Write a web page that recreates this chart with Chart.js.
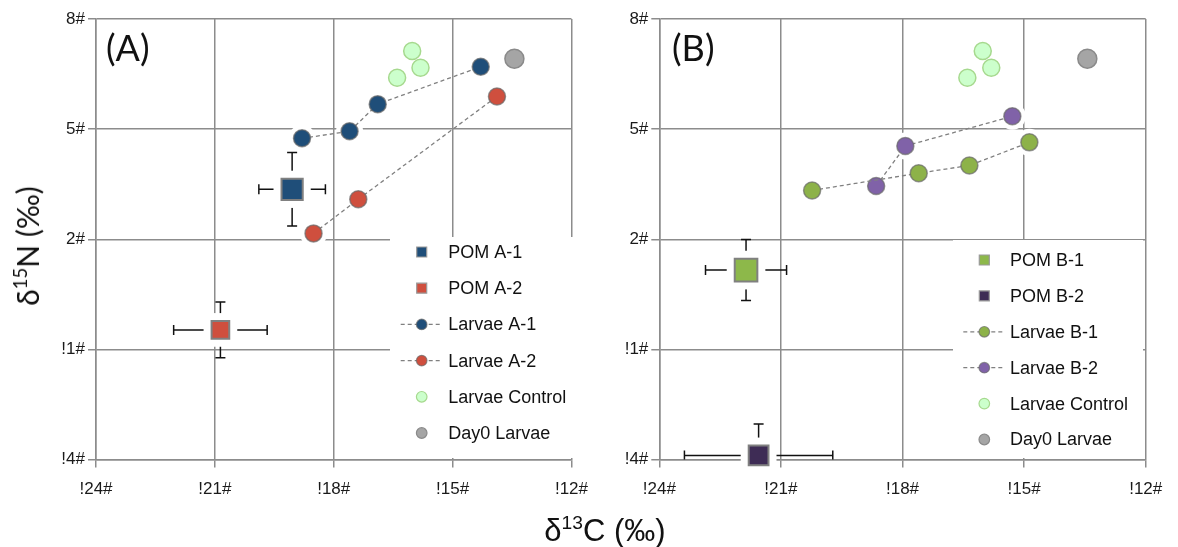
<!DOCTYPE html>
<html lang="en">
<head>
<meta charset="UTF-8">
<title>Isotope biplot</title>
<script src="https://cdn.jsdelivr.net/npm/chart.js"></script>
<style>
  body { margin: 0; background: #fff; }
  #wrap { position: relative; width: 1178px; height: 547px; overflow: hidden; }
  canvas { position: absolute; top: 0; }
  #chartA { left: 0; }
  #chartB { left: 600px; }
  .tag { position: absolute; top: 29px; font-family: Lato, 'Open Sans', sans-serif; font-size: 36px; line-height: 1; color: #111; }
  .ytitle { position: absolute; left: 27px; top: 246px; transform: translate(-50%, -50%) rotate(-90deg);
            font-family: Lato, 'Open Sans', sans-serif; font-size: 30px; white-space: nowrap; color: #111; }
  .xtitle { position: absolute; left: 605px; top: 531px; transform: translate(-50%, -50%);
            font-family: 'Liberation Sans', Arial, sans-serif; font-size: 31px; white-space: nowrap; color: #111; }
  sup { font-size: 0.62em; vertical-align: 0.62em; line-height: 0; }
</style>
</head>
<body>
<div id="wrap">
  <canvas id="chartA" width="600" height="547"></canvas>
  <canvas id="chartB" width="578" height="547"></canvas>
  <div class="tag" style="left:106px">(A)</div>
  <div class="tag" style="left:672px">(B)</div>
  <div class="ytitle">δ<sup>15</sup>N (‰)</div>
  <div class="xtitle">δ<sup>13</sup>C (‰)</div>
</div>
<script>
// axis ticks (labels kept exactly as printed in the figure)
const xTicks = [-24, -21, -18, -15, -12];
const xTickLabels = ['!24#', '!21#', '!18#', '!15#', '!12#'];
const yTicks = [-4, -1, 2, 5, 8];
const yTickLabels = ['!4#', '!1#', '2#', '5#', '8#'];

// panel A
const pomA1 = { x: -19.05, y: 3.36, xErr: 0.84, yErr: 1.0 };
const pomA2 = { x: -20.86, y: -0.47, xErr: 1.18, yErr: 0.76 };
const larvaeA1X = [-18.80, -17.60, -16.89, -14.29];
const larvaeA1Y = [4.75, 4.94, 5.68, 6.70];
const larvaeA2X = [-18.51, -17.38, -13.88];
const larvaeA2Y = [2.16, 3.09, 5.89];

// panel B
const pomB1 = { x: -21.86, y: 1.16, xErr: 1.0, yErr: 0.83 };
const pomB2 = { x: -21.55, y: -3.89, xErr: 1.83, yErr: 0.86 };
const larvaeB1X = [-20.23, -17.60, -16.35, -14.87];
const larvaeB1Y = [3.33, 3.80, 4.01, 4.64];
const larvaeB2X = [-18.65, -17.93, -15.29];
const larvaeB2Y = [3.45, 4.54, 5.35];

// shared
const controlX = [-16.02, -16.40, -15.81];
const controlY = [7.13, 6.40, 6.67];
const day0X = [-13.44];
const day0Y = [6.92];

const gridColor = '#8c8c8c';
const tickFont = { family: "'Liberation Sans', Arial, sans-serif", size: 17 };

const pts = (xs, ys) => xs.map((x, i) => ({ x, y: ys[i] }));

function pomSet(label, p, fill, r) {
  return { label, data: [{ x: p.x, y: p.y }], err: p, pointStyle: 'rect', pointRadius: r,
           backgroundColor: fill, borderColor: '#808080', borderWidth: 2, clip: false };
}
function larvaeSet(label, xs, ys, fill) {
  return { label, data: pts(xs, ys), showLine: true, pointRadius: 8.5, backgroundColor: fill,
           pointBackgroundColor: fill, pointBorderColor: 'rgba(105,105,105,0.7)', pointBorderWidth: 1.5,
           borderColor: '#808080', borderWidth: 1.3, borderDash: [4, 3], clip: false };
}
function plainSet(label, xs, ys, fill, edge, r) {
  return { label, data: pts(xs, ys), pointRadius: r, backgroundColor: fill,
           borderColor: edge, borderWidth: 1.5, clip: false };
}

// error bars + white halo behind each marker
const markerBack = {
  id: 'markerBack',
  beforeDatasetsDraw(chart) {
    const { ctx, chartArea: a } = chart;
    const sx = chart.scales.x, sy = chart.scales.y;
    ctx.save();
    ctx.beginPath();
    ctx.rect(a.left - 10, a.top - 10, a.right - a.left + 20, a.bottom - a.top + 10);
    ctx.clip();
    ctx.strokeStyle = '#111';
    ctx.lineWidth = 1.5;
    chart.data.datasets.forEach(ds => {
      if (!ds.err) return;
      const e = ds.err;
      const cx = sx.getPixelForValue(e.x), cy = sy.getPixelForValue(e.y);
      const x0 = sx.getPixelForValue(e.x - e.xErr), x1 = sx.getPixelForValue(e.x + e.xErr);
      const y0 = sy.getPixelForValue(e.y + e.yErr), y1 = sy.getPixelForValue(e.y - e.yErr);
      ctx.beginPath();
      ctx.moveTo(x0, cy); ctx.lineTo(x1, cy);
      ctx.moveTo(x0, cy - 5); ctx.lineTo(x0, cy + 5);
      ctx.moveTo(x1, cy - 5); ctx.lineTo(x1, cy + 5);
      ctx.moveTo(cx, y0); ctx.lineTo(cx, y1);
      ctx.moveTo(cx - 5, y0); ctx.lineTo(cx + 5, y0);
      ctx.moveTo(cx - 5, y1); ctx.lineTo(cx + 5, y1);
      ctx.stroke();
    });
    ctx.restore();
    ctx.save();
    ctx.fillStyle = '#fff';
    chart.data.datasets.forEach((ds, i) => {
      chart.getDatasetMeta(i).data.forEach(pt => {
        if (ds.pointStyle === 'rect') {
          const h = Math.SQRT1_2 * ds.pointRadius + 8;
          ctx.fillRect(pt.x - h, pt.y - h, 2 * h, 2 * h);
        } else {
          ctx.beginPath();
          ctx.arc(pt.x, pt.y, ds.pointRadius + 5, 0, Math.PI * 2);
          ctx.fill();
        }
      });
    });
    ctx.restore();
  }
};

// legend inside the plot area
const insetLegend = {
  id: 'insetLegend',
  afterDatasetsDraw(chart, args, o) {
    const ctx = chart.ctx;
    ctx.save();
    ctx.fillStyle = '#fff';
    ctx.fillRect(o.box[0], o.box[1], o.box[2], o.box[3]);
    ctx.font = "18px 'Liberation Sans', Arial, sans-serif";
    ctx.textBaseline = 'middle';
    chart.data.datasets.forEach((ds, i) => {
      const y = o.top + i * o.gap;
      const fill = ds.pointBackgroundColor || ds.backgroundColor;
      const edge = ds.pointBorderColor || ds.borderColor;
      if (ds.showLine) {
        ctx.strokeStyle = '#808080';
        ctx.lineWidth = 1.2;
        ctx.setLineDash([4, 3]);
        ctx.beginPath();
        ctx.moveTo(o.symX - 21, y); ctx.lineTo(o.symX + 21, y);
        ctx.stroke();
        ctx.setLineDash([]);
      }
      ctx.fillStyle = fill;
      ctx.strokeStyle = ds.showLine ? edge : (ds.err ? '#9a9a9a' : edge);
      ctx.lineWidth = 1.2;
      ctx.beginPath();
      if (ds.pointStyle === 'rect') ctx.rect(o.symX - 5, y - 5, 10, 10);
      else ctx.arc(o.symX, y, 5.3, 0, Math.PI * 2);
      ctx.fill();
      ctx.stroke();
      ctx.fillStyle = '#111';
      ctx.fillText(ds.label, o.textX, y + 1);
    });
    ctx.restore();
  }
};

function makeChart(id, datasets, yWidth, padRight, legendOpts) {
  return new Chart(document.getElementById(id), {
    type: 'scatter',
    data: { datasets },
    options: {
      responsive: false,
      animation: false,
      layout: { padding: { top: 19, right: padRight, left: 0, bottom: 0 } },
      plugins: { legend: { display: false }, tooltip: { enabled: false }, insetLegend: legendOpts },
      scales: {
        x: {
          type: 'linear', min: -24, max: -12,
          afterBuildTicks: s => { s.ticks = xTicks.map(v => ({ value: v })); },
          afterFit: s => { s.height = 87.5; },
          ticks: { callback: v => xTickLabels[xTicks.indexOf(v)], font: tickFont, color: '#1a1a1a', padding: 12, maxRotation: 0 },
          grid: { color: gridColor, lineWidth: 1.5, tickLength: 8 },
          border: { color: gridColor, width: 1.5 }
        },
        y: {
          type: 'linear', min: -4, max: 8,
          afterBuildTicks: s => { s.ticks = yTicks.map(v => ({ value: v })); },
          afterFit: s => { s.width = yWidth; },
          ticks: { callback: v => yTickLabels[yTicks.indexOf(v)], font: tickFont, color: '#1a1a1a', padding: 3 },
          grid: { color: gridColor, lineWidth: 1.5, tickLength: 8 },
          border: { color: gridColor, width: 1.5 }
        }
      }
    },
    plugins: [markerBack, insetLegend]
  });
}

makeChart('chartA', [
  pomSet('POM A-1', pomA1, '#1f4e79', 15),
  pomSet('POM A-2', pomA2, '#cf4f3e', 12.5),
  larvaeSet('Larvae A-1', larvaeA1X, larvaeA1Y, '#1f4e79'),
  larvaeSet('Larvae A-2', larvaeA2X, larvaeA2Y, '#cf4f3e'),
  plainSet('Larvae Control', controlX, controlY, '#ccffcc', '#a6d98e', 8.5),
  plainSet('Day0 Larvae', day0X, day0Y, '#a5a5a5', '#8a8a8a', 9.5)
], 96, 19, { box: [390, 237, 189, 221], top: 252, gap: 36.2, symX: 421.7, textX: 448.3 });

makeChart('chartB', [
  pomSet('POM B-1', pomB1, '#8db84a', 16),
  pomSet('POM B-2', pomB2, '#3e2c55', 14),
  larvaeSet('Larvae B-1', larvaeB1X, larvaeB1Y, '#8db249'),
  larvaeSet('Larvae B-2', larvaeB2X, larvaeB2Y, '#8062a8'),
  plainSet('Larvae Control', controlX, controlY, '#ccffcc', '#a6d98e', 8.5),
  plainSet('Day0 Larvae', day0X, day0Y, '#a5a5a5', '#8a8a8a', 9.5)
], 59.3, 32.3, { box: [353, 240, 190, 218], top: 260, gap: 35.9, symX: 384.3, textX: 410 });
</script>
</body>
</html>
